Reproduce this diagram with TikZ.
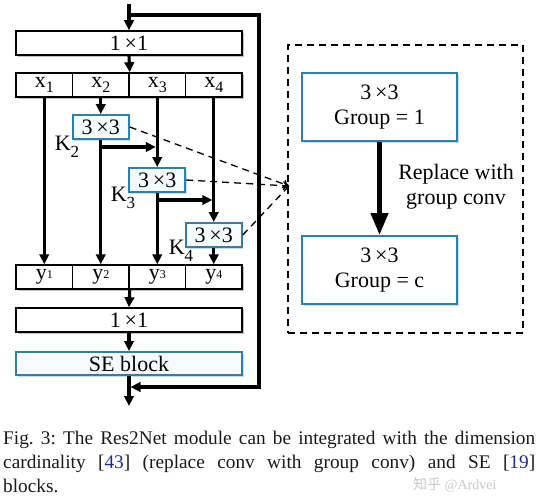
\documentclass[tikz,border=0pt]{standalone}
\usepackage{fontspec}
\setmainfont{Liberation Serif}
\newfontfamily\cjk{Noto Sans CJK SC}
\usetikzlibrary{arrows.meta,shadows,calc}
\definecolor{bb}{HTML}{2F7FA8}
\definecolor{bbfill}{HTML}{F5FBFD}
\definecolor{citeblue}{HTML}{1F2A8C}
\begin{document}
\begin{tikzpicture}[x=1pt,y=-1pt,
  fsz/.style={font=\fontsize{22}{24}\selectfont},
  shad/.style={drop shadow={shadow xshift=1.8pt,shadow yshift=-1.8pt,fill=black!35,opacity=0.7}},
  wbox/.style={draw, line width=1.5pt, fill=white, inner sep=0pt, fsz, shad},
  cell/.style={wbox, minimum width=56.5pt, minimum height=24pt},
  widebox/.style={wbox, minimum width=226pt, minimum height=24pt},
  bbox/.style={draw=bb, line width=2pt, fill=bbfill, inner sep=0pt, fsz, drop shadow={shadow xshift=1.6pt,shadow yshift=-1.6pt,fill=bb!45,opacity=0.6}},
  kbox/.style={bbox, minimum width=56pt, minimum height=24pt},
  gbox/.style={bbox, fill=white, minimum width=155pt, minimum height=68pt, align=center, font=\fontsize{22}{25}\selectfont},
  arr/.style={line width=3.1pt, -{Triangle[length=10pt,width=9.5pt]}},
  dashln/.style={dashed, dash pattern=on 7pt off 5pt, line width=1.3pt},
  klab/.style={fsz, inner sep=0pt}
]
\useasboundingbox (0,0) rectangle (538,503);

% top block
\coordinate (in) at (129,4);
\coordinate (fbA) at (129,15);
\coordinate (fbB) at (129,387);
\coordinate (out) at (129,406);
\node[widebox] (top) at (129,43) {1\,×1};

% x row
\node[cell] (x1) at (44.25,85) {x\raisebox{-0.22em}{\fontsize{16}{16}\selectfont 1}};
\node[cell] (x2) at (100.75,85) {x\raisebox{-0.22em}{\fontsize{16}{16}\selectfont 2}};
\node[cell] (x3) at (157.25,85) {x\raisebox{-0.22em}{\fontsize{16}{16}\selectfont 3}};
\node[cell] (x4) at (213.75,85) {x\raisebox{-0.22em}{\fontsize{16}{16}\selectfont 4}};

% K boxes
\node[kbox] (k2) at (100.75,127) {3\,×3};
\node[kbox] (k3) at (157.25,180) {3\,×3};
\node[kbox] (k4) at (213.75,235) {3\,×3};
\node[klab] (k2l) at (67,147) {K\raisebox{-0.3em}{\fontsize{17}{17}\selectfont 2}};
\node[klab] (k3l) at (123,198) {K\raisebox{-0.3em}{\fontsize{17}{17}\selectfont 3}};
\node[klab] (k4l) at (181,251) {K\raisebox{-0.3em}{\fontsize{17}{17}\selectfont 4}};

% y row
\node[cell] (y1) at (44.25,277) {y\raisebox{0.05em}{\fontsize{12}{12}\selectfont 1}};
\node[cell] (y2) at (100.75,277) {y\raisebox{0.05em}{\fontsize{12}{12}\selectfont 2}};
\node[cell] (y3) at (157.25,277) {y\raisebox{0.05em}{\fontsize{12}{12}\selectfont 3}};
\node[cell] (y4) at (213.75,277) {y\raisebox{0.05em}{\fontsize{12}{12}\selectfont 4}};

\node[widebox] (bot) at (129,320) {1\,×1};
\node[bbox, minimum width=226pt, minimum height=23pt] (se) at (129,363.5) {SE block};

% branch points
\coordinate (b2) at (100.75,147);
\coordinate (b3) at (157.25,200);

% connectors
\draw[arr] (in) -- (top.north);
\draw[arr] (fbA) -- (259,15) -- (259,387) -- ([xshift=1.5pt]fbB);
\draw[arr] (top.south) -- (x2.north east);
\draw[arr] (x1.south) -- (y1.north);
\draw[arr] (x2.south) -- (k2.north);
\draw[arr] (k2.south) -- (y2.north);
\draw[arr] (b2) -- ([xshift=-1.5pt]b2 -| x3.south);
\draw[arr] (x3.south) -- (k3.north);
\draw[arr] (k3.south) -- (y3.north);
\draw[arr] (b3) -- ([xshift=-1.5pt]b3 -| x4.south);
\draw[arr] (x4.south) -- (k4.north);
\draw[arr] (k4.south) -- (y4.north);
\draw[arr] (y2.south east) -- (bot.north);
\draw[arr] (bot.south) -- (se.north);
\draw[arr] (se.south) -- (out);

% right panel
\node[draw, dashln, minimum width=235pt, minimum height=288pt, inner sep=0pt] (panel) at (405.5,189) {};
\coordinate (c) at (289,186);
\draw[dashln, -{To[length=6pt,width=9pt]}] (k2.east) -- (c);
\draw[dashln, -{To[length=6pt,width=9pt]}] (k3.east) -- (c);
\draw[dashln, -{To[length=6pt,width=9pt]}] (k4.east) -- (c);

\node[gbox] (g1) at (379.5,107) {3\,×3\\Group = 1};
\node[gbox] (g2) at (379.5,270) {3\,×3\\Group = c};
\draw[line width=4.5pt, -{Triangle[length=22pt,width=17pt]}] (g1.south) -- (g2.north);
\node[align=center, font=\fontsize{22}{25}\selectfont, inner sep=0pt] (rep) at (456,187) {Replace with\\group conv};

% caption
\node[anchor=north west, inner sep=0pt, text width=532pt, align=justify,
      font=\fontsize{19.3}{24}\selectfont, text=black!90] (cap) at (3,431)
  {\frenchspacing\hyphenpenalty=10000 Fig. 3: The Res2Net module can be integrated with the dimension\linebreak
   cardinality [{\color{citeblue}43}] (replace conv with group conv) and SE [{\color{citeblue}19}]\linebreak
   blocks.};
\node[anchor=west, inner sep=0pt, text=black!22, font=\fontsize{14}{14}\selectfont] (wm) at (413,485) {{\cjk 知乎} @Ardvei};
\end{tikzpicture}
\end{document}
